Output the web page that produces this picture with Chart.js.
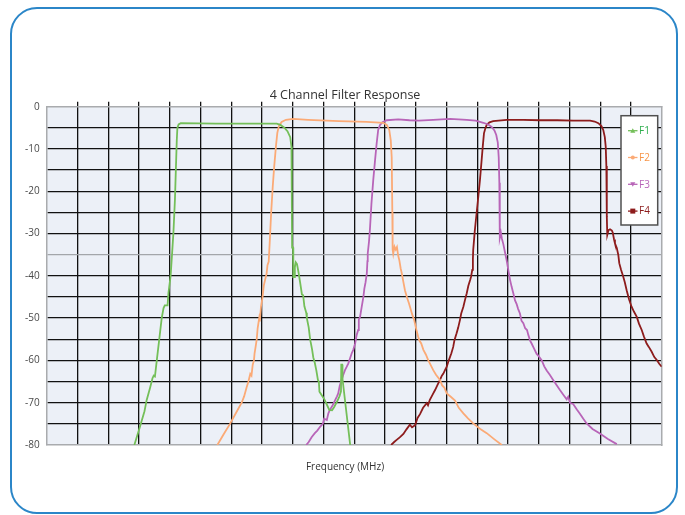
<!DOCTYPE html>
<html>
<head>
<meta charset="utf-8">
<title>4 Channel Filter Response</title>
<script src="https://cdn.jsdelivr.net/npm/chart.js@4.4.1/dist/chart.umd.min.js"></script>
<style>
    html, body { margin: 0; padding: 0; background: #fff; }
    #wrap { position: relative; width: 685px; height: 515px; overflow: hidden; }
    #frame {
        position: absolute; left: 9.5px; top: 6.5px; width: 668px; height: 507px;
        box-sizing: border-box; border: 2.5px solid #2b86c8; border-radius: 27px;
    }
    #holder { position: absolute; left: 0; top: 0; width: 685px; height: 515px; }
</style>
</head>
<body>
<div id="wrap">
    <div id="frame"></div>
    <div id="holder"><canvas id="filter-chart"></canvas></div>
</div>
<script>
'use strict';

// Frequency is in grid divisions (0..20), the picture has no frequency labels.
// Response values in dB.
var seriesNames = ['F1', 'F2', 'F3', 'F4'];

var f1Points = [[2.85,-80],[3.02,-76],[3.18,-72],[3.25,-69.4],[3.36,-66.5],[3.44,-64.2],[3.48,-63.6],[3.52,-63.8],
    [3.58,-60],[3.66,-55],[3.74,-50],[3.80,-47.6],[3.84,-47.0],[3.93,-47.0],[3.96,-44],[4.03,-40],[4.12,-30],[4.17,-22],
    [4.20,-15],[4.23,-8],[4.25,-5],[4.29,-4.2],[4.36,-3.9],[5.5,-4.0],[6.6,-4.0],[7.48,-4.0],[7.6,-4.3],[7.72,-4.9],
    [7.83,-5.8],[7.92,-7.2],[7.96,-9.5],[7.97,-20],[7.98,-33.3],[8.01,-33.3],[8.02,-40.3],[8.05,-40.3],[8.07,-38],
    [8.10,-36.8],[8.14,-37.2],[8.19,-39.2],[8.24,-41.5],[8.30,-44.4],[8.34,-44.6],[8.38,-47.2],[8.44,-48.7],[8.46,-50],
    [8.52,-52.2],[8.56,-54.6],[8.58,-55.5],[8.63,-57.4],[8.67,-59.3],[8.72,-60.6],[8.77,-62.4],[8.82,-64.6],[8.85,-65],
    [8.87,-67.4],[8.95,-68.3],[9.03,-69.2],[9.12,-70.6],[9.19,-71.7],[9.28,-71.8],[9.35,-71],[9.45,-69.6],[9.52,-68.5],
    [9.57,-67.3],[9.58,-61],[9.61,-61],[9.62,-64.4],[9.87,-80]];

var f2Points = [[5.55,-80],[5.75,-77.5],[5.96,-75],[6.15,-72.5],[6.34,-70],[6.42,-68.5],[6.50,-66.4],[6.56,-65],
    [6.62,-63.2],[6.66,-63.6],[6.70,-61],[6.74,-60],[6.76,-58.3],[6.80,-56.5],[6.83,-55],[6.86,-52.4],[6.91,-50],
    [6.93,-50.8],[6.97,-47.2],[7.02,-45],[7.06,-42.3],[7.10,-41],[7.15,-39.5],[7.18,-37.5],[7.22,-36.6],[7.26,-31],
    [7.30,-25],[7.35,-19],[7.40,-14],[7.46,-9],[7.50,-6.2],[7.55,-4.6],[7.64,-3.6],[7.78,-3.1],[8.02,-2.9],[8.5,-3.1],
    [9.5,-3.4],[10.4,-3.6],[10.95,-3.8],[11.06,-4.3],[11.14,-5.5],[11.19,-8],[11.22,-12],[11.24,-25],[11.25,-33.8],
    [11.27,-34.8],[11.31,-33.1],[11.35,-33.8],[11.39,-33.2],[11.43,-35.2],[11.47,-36.4],[11.51,-38.2],[11.55,-39.5],
    [11.60,-41.5],[11.65,-43.4],[11.72,-45.2],[11.78,-46.5],[11.82,-47.5],[11.88,-49],[11.95,-50.4],[12.02,-52.7],
    [12.08,-54.4],[12.12,-55.3],[12.18,-56],[12.25,-57.5],[12.33,-58.6],[12.41,-60],[12.46,-60.7],[12.57,-62.3],
    [12.66,-63.4],[12.79,-64.6],[12.86,-65.9],[12.93,-66.4],[13.01,-67.8],[13.14,-68.6],[13.28,-69.5],[13.40,-71.2],
    [13.55,-72.5],[13.70,-73.7],[13.87,-74.9],[14.1,-76.2],[14.31,-77.2],[14.55,-78.6],[14.80,-80]];

var f3Points = [[8.44,-80],[8.52,-79.3],[8.62,-78.1],[8.72,-77.2],[8.80,-76.6],[8.89,-75.7],[8.98,-75],[9.02,-73.8],
    [9.11,-74.1],[9.16,-72.5],[9.21,-71.7],[9.30,-70.6],[9.38,-69.4],[9.44,-68.5],[9.48,-67.8],[9.53,-66],[9.59,-64.6],
    [9.64,-63.5],[9.70,-62.3],[9.75,-61.6],[9.81,-60.7],[9.86,-59.6],[9.92,-58.3],[9.97,-57.5],[10.03,-56],[10.08,-54],
    [10.13,-52.8],[10.15,-50.3],[10.19,-49.7],[10.24,-47.5],[10.30,-44.9],[10.33,-43],[10.37,-41.5],[10.41,-39.4],
    [10.43,-36.5],[10.44,-34.7],[10.48,-32],[10.51,-29.2],[10.56,-23],[10.62,-17.3],[10.68,-12.5],[10.73,-8.7],
    [10.78,-5.5],[10.84,-4.3],[10.92,-3.7],[11.06,-3.2],[11.43,-3.0],[11.8,-3.2],[12.1,-3.3],[12.57,-3.1],[13.12,-2.9],
    [13.66,-3.1],[13.95,-3.3],[14.2,-3.8],[14.36,-4.2],[14.47,-4.8],[14.56,-5.6],[14.62,-6.7],[14.67,-8.5],[14.70,-12],
    [14.72,-18],[14.73,-25],[14.74,-31],[14.77,-29.8],[14.80,-31.1],[14.85,-32.5],[14.90,-34.3],[14.96,-36.4],
    [15.02,-39],[15.07,-41],[15.12,-42.6],[15.18,-44.3],[15.23,-45.8],[15.28,-46.6],[15.33,-47.8],[15.39,-48.9],
    [15.44,-50.6],[15.50,-51.2],[15.56,-52.4],[15.62,-52.8],[15.66,-53.9],[15.72,-55.3],[15.77,-56],[15.85,-57.2],
    [15.93,-58.4],[16.02,-59.2],[16.10,-60],[16.18,-61.4],[16.26,-62.4],[16.36,-63.4],[16.47,-64.6],[16.58,-65.8],
    [16.69,-67],[16.80,-68.1],[16.91,-69.2],[16.96,-68.6],[17.02,-70.1],[17.12,-70.3],[17.24,-71.6],[17.34,-72.6],
    [17.45,-73.8],[17.56,-74.9],[17.75,-76.2],[17.99,-77.3],[18.25,-78.6],[18.54,-79.8]];

var f4Points = [[11.20,-80],[11.30,-79.3],[11.38,-78.8],[11.48,-78.2],[11.60,-77.4],[11.70,-76.3],[11.81,-75.2],
    [11.88,-75.8],[11.98,-75.3],[12.06,-73.6],[12.14,-72.7],[12.24,-71.2],[12.36,-70.1],[12.40,-70.6],[12.46,-69.3],
    [12.55,-68.1],[12.63,-67],[12.71,-65.8],[12.79,-64.6],[12.85,-63.6],[12.90,-63.1],[12.96,-62.2],[13.01,-61.5],
    [13.07,-60.1],[13.12,-59.1],[13.16,-58.3],[13.22,-56.8],[13.26,-55.2],[13.33,-53.6],[13.38,-52.3],[13.44,-50.4],
    [13.48,-48.9],[13.55,-47.3],[13.60,-45.8],[13.66,-44.1],[13.71,-42.4],[13.77,-41],[13.80,-40.2],[13.84,-38.6],
    [13.86,-36],[13.87,-33.9],[13.92,-29.5],[13.98,-25.2],[14.04,-21],[14.09,-17.3],[14.14,-13],[14.18,-9.5],
    [14.22,-6.3],[14.27,-5],[14.31,-4.3],[14.40,-3.7],[14.52,-3.4],[14.96,-3.1],[15.5,-3.1],[16.04,-3.2],[16.6,-3.2],
    [17.12,-3.3],[17.67,-3.3],[17.82,-3.5],[17.94,-3.9],[18.04,-4.6],[18.10,-5.5],[18.15,-7.2],[18.18,-9.5],
    [18.20,-14],[18.21,-20],[18.22,-26],[18.23,-30.3],[18.27,-29.2],[18.32,-29],[18.38,-29.3],[18.41,-29.8],
    [18.45,-31.4],[18.48,-32.3],[18.54,-33.4],[18.59,-35.1],[18.62,-37],[18.68,-38.6],[18.75,-40.2],[18.80,-41.5],
    [18.86,-43.4],[18.94,-45.6],[19.02,-47.3],[19.10,-48.5],[19.19,-49.7],[19.26,-51.3],[19.35,-52.8],[19.42,-54.3],
    [19.51,-56],[19.58,-56.8],[19.67,-57.9],[19.76,-59.2],[19.84,-59.9],[19.92,-60.8],[20.0,-61.5]];

var yTickStep = 5;   // grid every 5 dB, labels every 10 dB

var lineColors = ['#74bf59', '#fbaa76', '#b865b8', '#8d1c1c'];
var legendTextColors = ['#2fae4e', '#f7964a', '#b865b8', '#8d1c1c'];
var markerStyles = ['triangle', 'circle', 'triangleDown', 'rect'];

var FONT = '"Open Sans", "Noto Sans", sans-serif';
var BORDER_GREY = '#a9abae';

Chart.defaults.font.family = FONT;

function toXY(points) {
    return points.map(function (p) { return { x: p[0], y: p[1] }; });
}

// Grid colours: plot edges are left to the grey axis borders, -35 dB line is grey in the original
function xGridColor(ctx) {
    var v = ctx.tick && ctx.tick.value;
    return (v === 0 || v === 20) ? 'rgba(0,0,0,0)' : '#111';
}
function yGridColor(ctx) {
    var v = ctx.tick && ctx.tick.value;
    if (v === 0 || v === -80) return 'rgba(0,0,0,0)';
    if (v === -35) return '#a3a6aa';
    return '#111';
}

// Light blue plot background
var plotBackground = {
    id: 'plotBackground',
    beforeDraw: function (chart) {
        var a = chart.chartArea;
        var ctx = chart.ctx;
        ctx.save();
        ctx.fillStyle = '#ecf0f7';
        ctx.fillRect(a.left, a.top, a.right - a.left, a.bottom - a.top);
        ctx.restore();
    }
};

function drawMarker(ctx, style, x, y) {
    ctx.beginPath();
    if (style === 'triangle') {
        ctx.moveTo(x, y - 2.5); ctx.lineTo(x + 2.5, y + 2); ctx.lineTo(x - 2.5, y + 2);
    } else if (style === 'triangleDown') {
        ctx.moveTo(x, y + 2.5); ctx.lineTo(x + 2.5, y - 2); ctx.lineTo(x - 2.5, y - 2);
    } else if (style === 'circle') {
        ctx.arc(x, y, 2, 0, Math.PI * 2);
    } else {
        ctx.rect(x - 2.5, y - 2.5, 5, 5);
    }
    ctx.closePath();
    ctx.fill();
}

// Boxed legend inside the plot, top right
var boxLegend = {
    id: 'boxLegend',
    afterDraw: function (chart) {
        var a = chart.chartArea;
        var ctx = chart.ctx;
        var x = a.right - 40.7, y = a.top + 9, w = 36.7, h = 109.3;
        ctx.save();
        ctx.fillStyle = '#fff';
        ctx.fillRect(x, y, w, h);
        ctx.strokeStyle = '#505050';
        ctx.lineWidth = 1.5;
        ctx.strokeRect(x, y, w, h);
        ctx.font = '10px ' + FONT;
        ctx.textBaseline = 'middle';
        chart.data.datasets.forEach(function (ds, i) {
            var cy = y + 15 + i * 26.8;
            ctx.strokeStyle = ds.borderColor;
            ctx.fillStyle = ds.borderColor;
            ctx.lineWidth = 1.3;
            ctx.beginPath();
            ctx.moveTo(x + 7, cy);
            ctx.lineTo(x + 16.5, cy);
            ctx.stroke();
            drawMarker(ctx, markerStyles[i], x + 11.8, cy);
            ctx.fillStyle = legendTextColors[i];
            ctx.fillText(ds.label, x + 18, cy + 0.5);
        });
        ctx.restore();
    }
};

var allPoints = [f1Points, f2Points, f3Points, f4Points];

var datasets = seriesNames.map(function (name, i) {
    return {
        label: name,
        data: toXY(allPoints[i]),
        borderColor: lineColors[i],
        backgroundColor: lineColors[i],
        borderWidth: 1.8,
        showLine: true,
        pointRadius: 0,
        tension: 0
    };
});

var chart = new Chart(document.getElementById('filter-chart').getContext('2d'), {
    type: 'scatter',
    data: { datasets: datasets },
    plugins: [plotBackground, boxLegend],
    options: {
        responsive: true,
        maintainAspectRatio: false,
        animation: false,
        layout: { padding: { left: 5, right: 0, top: 0, bottom: 0 } },
        plugins: {
            legend: { display: false },
            tooltip: { enabled: false },
            title: {
                display: true,
                text: '4 Channel Filter Response',
                color: '#333',
                font: { size: 12.5, weight: 'normal', lineHeight: 1.2 },
                padding: { top: 88, bottom: 0 }
            },
            subtitle: {
                display: true,
                position: 'bottom',
                text: 'Frequency (MHz)',
                color: '#333',
                font: { size: 10, weight: 'normal', lineHeight: 1.2 },
                padding: { top: 11.7, bottom: 42.3 }
            }
        },
        scales: {
            x: {
                type: 'linear', position: 'bottom', min: 0, max: 20,
                ticks: { display: false, stepSize: 1 },
                grid: { color: xGridColor, lineWidth: 1.3, drawTicks: false },
                border: { color: BORDER_GREY, width: 1.5 },
                afterFit: function (s) { s.height = 4; }
            },
            xTop: {
                type: 'linear', axis: 'x', position: 'top', min: 0, max: 20,
                ticks: { display: false, stepSize: 1 },
                grid: { drawOnChartArea: false, color: xGridColor, lineWidth: 1.3, tickLength: 5 },
                border: { color: BORDER_GREY, width: 1.5 },
                afterFit: function (s) { s.height = 3.7; }
            },
            y: {
                type: 'linear', position: 'left', min: -80, max: 0,
                ticks: {
                    stepSize: yTickStep, padding: 7, color: '#4a4a4a', font: { size: 10 },
                    callback: function (v) { return v % 10 === 0 ? String(v) : ''; }
                },
                grid: { color: yGridColor, lineWidth: 1.3, drawTicks: false },
                border: { color: BORDER_GREY, width: 1.5 },
                afterFit: function (s) { s.width = 41.7; }
            },
            yRight: {
                type: 'linear', axis: 'y', position: 'right', min: -80, max: 0,
                ticks: { display: false },
                grid: { drawOnChartArea: false, drawTicks: false },
                border: { color: BORDER_GREY, width: 1.5 },
                afterFit: function (s) { s.width = 23.3; }
            }
        }
    }
});
</script>
</body>
</html>
